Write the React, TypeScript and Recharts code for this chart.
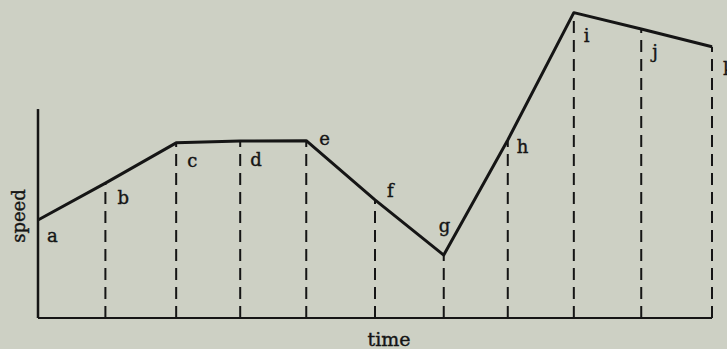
import { LineChart, Line, XAxis, YAxis, ReferenceLine, LabelList } from 'recharts';

const POINT_NAMES = ['a', 'b', 'c', 'd', 'e', 'f', 'g', 'h', 'i', 'j', 'k'];
const TIMES = [0, 1, 2.05, 3, 3.98, 5, 6.02, 6.97, 7.95, 8.95, 10];
const SPEEDS = [31.6, 43.5, 56.5, 57.1, 57.2, 38.1, 20.3, 57.4, 98.5, 93.2, 87.5];
const Y_AXIS_TOP = 67.4;

// where each letter sits relative to its point (px)
const LABEL_OFFSETS = [
  [9, 22], [12, 21], [11, 24], [10, 25], [13, 4], [12, -3],
  [-5, -23], [9, 13], [10, 29], [11, 29], [11, 28],
];

const BG = '#cdd0c4';
const INK = '#151515';
const FONT = '"DejaVu Serif", "Liberation Serif", serif';

const data = TIMES.map((t, i) => ({ name: POINT_NAMES[i], time: t, speed: SPEEDS[i] }));

function PointLabel(props: any) {
  const { x, y, index, value } = props;
  const [dx, dy] = LABEL_OFFSETS[index] || [8, 16];
  return (
    <text
      x={x + dx}
      y={y + dy}
      fill={INK}
      stroke={INK}
      strokeWidth={0.4}
      fontFamily={FONT}
      fontSize={18}
    >
      {value}
    </text>
  );
}

export default function App() {
  return (
    <div
      style={{
        position: 'absolute',
        left: 0,
        top: 0,
        width: 727,
        height: 349,
        background: BG,
        overflow: 'hidden',
      }}
    >
      <LineChart width={727} height={349} data={data} margin={{ top: 8, right: 15, bottom: 0, left: 0 }}>
        <XAxis
          dataKey="time"
          type="number"
          domain={[0, 10]}
          ticks={[]}
          tick={false}
          tickLine={false}
          height={31}
          axisLine={{ stroke: INK, strokeWidth: 2 }}
          label={({ viewBox }: any) => (
            <text
              x={viewBox.x + viewBox.width / 2 + 14}
              y={viewBox.y + viewBox.height - 3}
              textAnchor="middle"
              fill={INK}
              stroke={INK}
              strokeWidth={0.4}
              fontFamily={FONT}
              fontSize={19}
            >
              time
            </text>
          )}
        />
        <YAxis
          type="number"
          domain={[0, 100]}
          width={38}
          tick={false}
          tickLine={false}
          axisLine={false}
          label={({ viewBox }: any) => {
            const cx = viewBox.x + 18;
            const cy = viewBox.y + viewBox.height / 2 + 53;
            return (
              <text
                x={cx}
                y={cy}
                transform={`rotate(-90, ${cx}, ${cy})`}
                textAnchor="middle"
                dominantBaseline="central"
                fill={INK}
                stroke={INK}
                strokeWidth={0.4}
                fontFamily={FONT}
                fontSize={18}
              >
                speed
              </text>
            );
          }}
        />
        <ReferenceLine
          segment={[{ x: 0, y: 0 }, { x: 0, y: Y_AXIS_TOP }]}
          stroke={INK}
          strokeWidth={2.5}
        />
        {data.slice(1).map((d) => (
          <ReferenceLine
            key={d.name}
            segment={[{ x: d.time, y: 0 }, { x: d.time, y: d.speed }]}
            stroke={INK}
            strokeWidth={2}
            strokeDasharray="12 7"
          />
        ))}
        <Line
          type="linear"
          dataKey="speed"
          stroke={INK}
          strokeWidth={3}
          strokeLinejoin="round"
          dot={false}
          activeDot={false}
          isAnimationActive={false}
        >
          <LabelList dataKey="name" content={PointLabel} />
        </Line>
      </LineChart>
    </div>
  );
}
